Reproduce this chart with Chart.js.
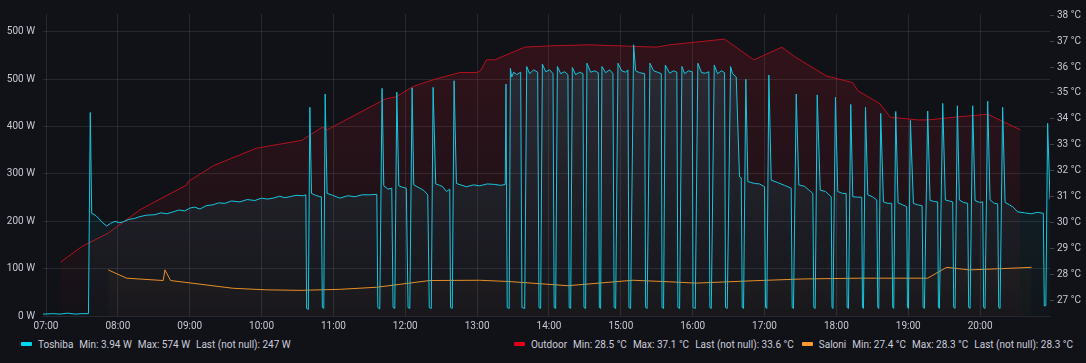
<!DOCTYPE html>
<html>
<head>
<meta charset="utf-8">
<script src="https://cdn.jsdelivr.net/npm/chart.js@4.4.1/dist/chart.umd.min.js"></script>
<style>
html,body{margin:0;padding:0;background:#111217;width:1086px;height:363px;overflow:hidden;font-family:Roboto,"Noto Sans",sans-serif;}
#c{position:absolute;left:0;top:0;}
.legend{position:absolute;top:336px;height:16px;display:flex;align-items:center;font-size:10px;color:#ccccdc;white-space:nowrap;}
.item{display:flex;align-items:center;}
.item + .item{margin-left:8px;}
.mk{width:11px;height:4px;border-radius:1px;margin-right:6px;}
.st{margin-left:6px;}
</style>
</head>
<body>
<canvas id="c" width="1086" height="335"></canvas>
<div class="legend" id="legL" style="left:21px"></div>
<div class="legend" id="legR" style="right:13px"></div>
<script>
// ---- categories / ticks ----
const hourTicks  = [7,8,9,10,11,12,13,14,15,16,17,18,19,20];
const hourLabels = ['07:00','08:00','09:00','10:00','11:00','12:00','13:00','14:00','15:00','16:00','17:00','18:00','19:00','20:00'];
const wattTicks  = [0,100,200,300,400,500,600];
const wattTickLabels = ['0 W','100 W','200 W','300 W','400 W','500 W','500 W'];
const tempTicks  = [27,28,29,30,31,32,33,34,35,36,37,38];
const tempTickLabels = ['27 °C','28 °C','29 °C','30 °C','31 °C','32 °C','33 °C','34 °C','35 °C','36 °C','37 °C','38 °C'];

// ---- Toshiba (W), time in decimal hours ----
const toshibaTime = [6.958,7.100,7.195,7.300,7.403,7.500,7.591,7.616,7.636,7.695,7.740,7.775,7.844,7.900,7.960,8.020,8.075,8.150,8.230,8.307,8.400,8.516,8.600,8.680,8.771,8.850,8.930,9.003,9.070,9.142,9.230,9.327,9.400,9.490,9.580,9.698,9.800,9.907,10.000,10.080,10.161,10.250,10.320,10.394,10.480,10.579,10.616,
10.627,10.651,10.672,10.695,10.750,10.811,10.832,10.846,10.866,10.885,10.912,10.990,11.089,11.200,11.298,11.400,11.506,11.604,
11.618,11.645,11.677,11.701,11.760,11.812,11.830,11.854,11.882,11.910,11.960,12.014,12.039,12.063,12.095,12.118,12.202,12.260,12.313,
12.334,12.362,12.387,12.424,12.480,12.521,12.573,12.619,12.630,12.654,12.679,12.712,12.790,12.851,12.950,13.036,13.140,13.245,13.330,13.391,
13.402,13.419,13.446,13.463,13.481,13.509,13.551,13.606,13.624,13.662,13.690,13.731,13.787,13.843,13.861,13.884,13.908,13.954,14.010,14.056,
14.072,14.093,14.117,14.163,14.218,14.264,14.281,14.302,14.325,14.371,14.427,14.473,14.487,14.510,14.528,14.580,14.636,14.687,
14.701,14.719,14.737,14.789,14.844,14.890,14.907,14.928,14.960,15.011,15.067,15.099,15.113,15.136,15.178,15.206,15.261,15.331,
15.345,15.366,15.405,15.456,15.512,15.563,15.574,15.595,15.619,15.679,15.734,15.780,15.794,15.818,15.850,15.887,15.943,15.994,
16.005,16.036,16.072,16.124,16.179,16.225,16.239,16.259,16.300,16.346,16.402,16.444,16.457,16.481,16.527,16.555,16.606,16.652,16.676,
16.690,16.708,16.740,16.768,16.861,16.930,17.000,17.014,17.032,17.060,17.093,17.181,17.278,17.371,17.385,17.403,17.441,17.477,17.556,17.626,17.672,
17.686,17.705,17.733,17.775,17.848,17.928,17.939,17.953,17.987,18.019,18.085,18.136,18.150,18.168,18.200,18.228,18.293,18.353,
18.363,18.377,18.405,18.437,18.502,18.562,18.576,18.590,18.617,18.655,18.711,18.770,18.784,18.798,18.826,18.859,18.919,18.979,
18.989,19.003,19.030,19.072,19.128,19.193,19.207,19.225,19.271,19.304,19.364,19.410,19.420,19.434,19.480,19.517,19.573,19.619,
19.633,19.652,19.684,19.712,19.768,19.827,19.841,19.861,19.897,19.930,19.990,20.036,20.050,20.069,20.106,20.139,20.199,20.245,
20.259,20.278,20.314,20.348,20.407,20.453,20.523,20.616,20.713,20.797,20.880,20.894,20.915,20.940,20.973];
const toshibaWatts = [4,5,4,6,4,5,5,430,217,212,205,199,190,196,200,197,199,204,206,210,213,214,218,216,220,224,222,228,230,226,233,235,239,238,243,241,246,244,249,247,249,253,250,252,255,254,256,
16,14,441,259,255,252,252,18,16,469,259,255,249,254,252,256,256,257,
18,15,481,275,268,270,18,16,473,275,272,270,18,16,482,277,270,265,256,
18,16,483,279,276,273,263,268,18,16,497,280,276,273,277,275,279,278,276,278,
490,18,16,523,505,515,510,515,18,16,527,512,520,515,18,16,532,516,520,512,
18,16,527,512,516,510,18,16,525,510,515,512,18,16,534,515,518,514,
18,16,527,514,520,512,18,16,534,518,515,520,18,16,573,518,514,512,
18,16,534,518,515,512,18,16,530,513,518,515,18,16,527,512,518,516,
18,16,534,514,513,516,18,16,530,512,518,514,18,16,527,512,505,294,292,
18,16,500,284,280,279,273,18,16,509,287,282,276,270,18,16,469,277,274,265,259,
18,16,467,266,263,252,18,16,462,263,259,259,18,16,447,252,251,251,
18,16,441,256,252,245,18,16,428,241,238,238,18,16,432,239,235,231,
18,16,413,238,235,233,18,16,433,244,242,241,18,16,449,245,243,241,
18,16,444,245,240,238,18,16,444,244,240,241,18,16,454,245,238,237,
18,16,441,240,235,231,220,218,216,219,217,21,22,407,247];

// ---- Outdoor (°C) ----
const outdoorTime = [7.204,7.497,7.866,8.307,8.957,8.979,9.327,9.698,9.931,10.556,10.846,10.915,11.715,11.878,12.108,12.387,12.758,12.999,13.050,13.129,13.245,13.662,14.010,14.566,15.077,15.494,15.679,16.444,16.851,17.241,17.417,17.858,18.228,18.298,18.609,18.748,19.132,19.271,19.666,20.106,20.560];
const outdoorTemp = [28.47,29.07,29.59,30.49,31.45,31.58,32.19,32.61,32.87,33.17,33.68,33.58,34.76,34.86,35.25,35.51,35.79,35.79,35.87,36.28,36.28,36.77,36.82,36.86,36.81,36.77,36.86,37.08,36.28,36.77,36.41,35.66,35.40,35.09,34.58,34.07,33.96,33.96,34.07,34.18,33.58];

// ---- Saloni (°C) ----
const saloniTime = [7.866,8.122,8.631,8.655,8.734,9.605,10.069,10.533,11.089,11.600,12.341,13.036,13.453,14.264,15.168,15.679,16.050,16.837,17.533,18.321,19.271,19.535,19.851,20.314,20.717];
const saloniTemp = [28.17,27.85,27.76,28.17,27.76,27.46,27.40,27.38,27.42,27.50,27.76,27.77,27.72,27.56,27.77,27.71,27.66,27.75,27.82,27.85,27.85,28.27,28.17,28.22,28.27];

// ---- legend texts ----
const legendLeft  = [{name:'Toshiba', color:'#00d8ef', stats:['Min: 3.94 W','Max: 574 W','Last (not null): 247 W']}];
const legendRight = [{name:'Outdoor', color:'#e0001a', stats:['Min: 28.5 °C','Max: 37.1 °C','Last (not null): 33.6 °C']},
                     {name:'Saloni',  color:'#ff9830', stats:['Min: 27.4 °C','Max: 28.3 °C','Last (not null): 28.3 °C']}];

function buildLegend(el, items){
  items.forEach(it=>{
    const d=document.createElement('div'); d.className='item';
    const m=document.createElement('span'); m.className='mk'; m.style.background=it.color; d.appendChild(m);
    const n=document.createElement('span'); n.textContent=it.name; d.appendChild(n);
    it.stats.forEach(s=>{const e=document.createElement('span'); e.className='st'; e.textContent=s; d.appendChild(e);});
    el.appendChild(d);
  });
}
buildLegend(document.getElementById('legL'), legendLeft);
buildLegend(document.getElementById('legR'), legendRight);

function vgrad(context, rgb, a0, a1){
  const chart = context.chart; const a = chart.chartArea;
  if(!a) return 'transparent';
  const g = chart.ctx.createLinearGradient(0, a.top, 0, a.bottom);
  g.addColorStop(0, 'rgba('+rgb+','+a0+')');
  g.addColorStop(1, 'rgba('+rgb+','+a1+')');
  return g;
}
const pts = (xs, ys) => xs.map((x,i)=>({x:x, y:ys[i]}));

const gridColor = 'rgba(204,204,220,0.12)';
const textColor = '#c7c7d3';
const tickFont = {family:'Roboto', size:10};

new Chart(document.getElementById('c'), {
  type:'line',
  data:{datasets:[
    {label:'Toshiba', data:pts(toshibaTime, toshibaWatts), yAxisID:'yW', borderColor:'#16c6de', borderWidth:1,
     pointRadius:0, tension:0, fill:'start', backgroundColor:c=>vgrad(c,'22,198,222',0.16,0.02)},
    {label:'Outdoor', data:pts(outdoorTime, outdoorTemp), yAxisID:'yC', borderColor:'#b5101f', borderWidth:1,
     pointRadius:0, tension:0, fill:'start', backgroundColor:c=>vgrad(c,'196,22,42',0.2,0.02)},
    {label:'Saloni', data:pts(saloniTime, saloniTemp), yAxisID:'yC', borderColor:'#ef9120', borderWidth:1,
     pointRadius:0, tension:0, fill:'start', backgroundColor:c=>vgrad(c,'255,152,48',0.1,0.02)}
  ]},
  options:{
    responsive:false, animation:false, maintainAspectRatio:false,
    layout:{padding:{top:14,left:0,right:0,bottom:0}},
    plugins:{legend:{display:false}, tooltip:{enabled:false}},
    scales:{
      x:{type:'linear', min:6.958, max:20.973,
         afterBuildTicks:s=>{s.ticks = hourTicks.map(v=>({value:v}));},
         ticks:{autoSkip:false, maxRotation:0, color:textColor, font:tickFont, padding:4,
                callback:(v,i)=>hourLabels[i]},
         grid:{color:gridColor, drawTicks:false}, border:{display:false},
         afterFit:s=>{s.height=19;}},
      yW:{type:'linear', position:'left', min:0, max:638,
         afterBuildTicks:s=>{s.ticks = wattTicks.map(v=>({value:v}));},
         ticks:{color:textColor, font:tickFont, padding:8, callback:(v,i)=>wattTickLabels[i]},
         grid:{color:gridColor, drawTicks:false}, border:{display:false},
         afterFit:s=>{s.width=43;}},
      yC:{type:'linear', position:'right', min:26.39, max:38.05,
         afterBuildTicks:s=>{s.ticks = tempTicks.map(v=>({value:v}));},
         ticks:{color:textColor, font:tickFont, padding:3, callback:(v,i)=>tempTickLabels[i]},
         grid:{drawOnChartArea:false, drawTicks:true, tickLength:4, color:'rgba(204,204,220,0.25)'}, border:{display:false},
         afterFit:s=>{s.width=36;}}
    }
  }
});
</script>
</body>
</html>
